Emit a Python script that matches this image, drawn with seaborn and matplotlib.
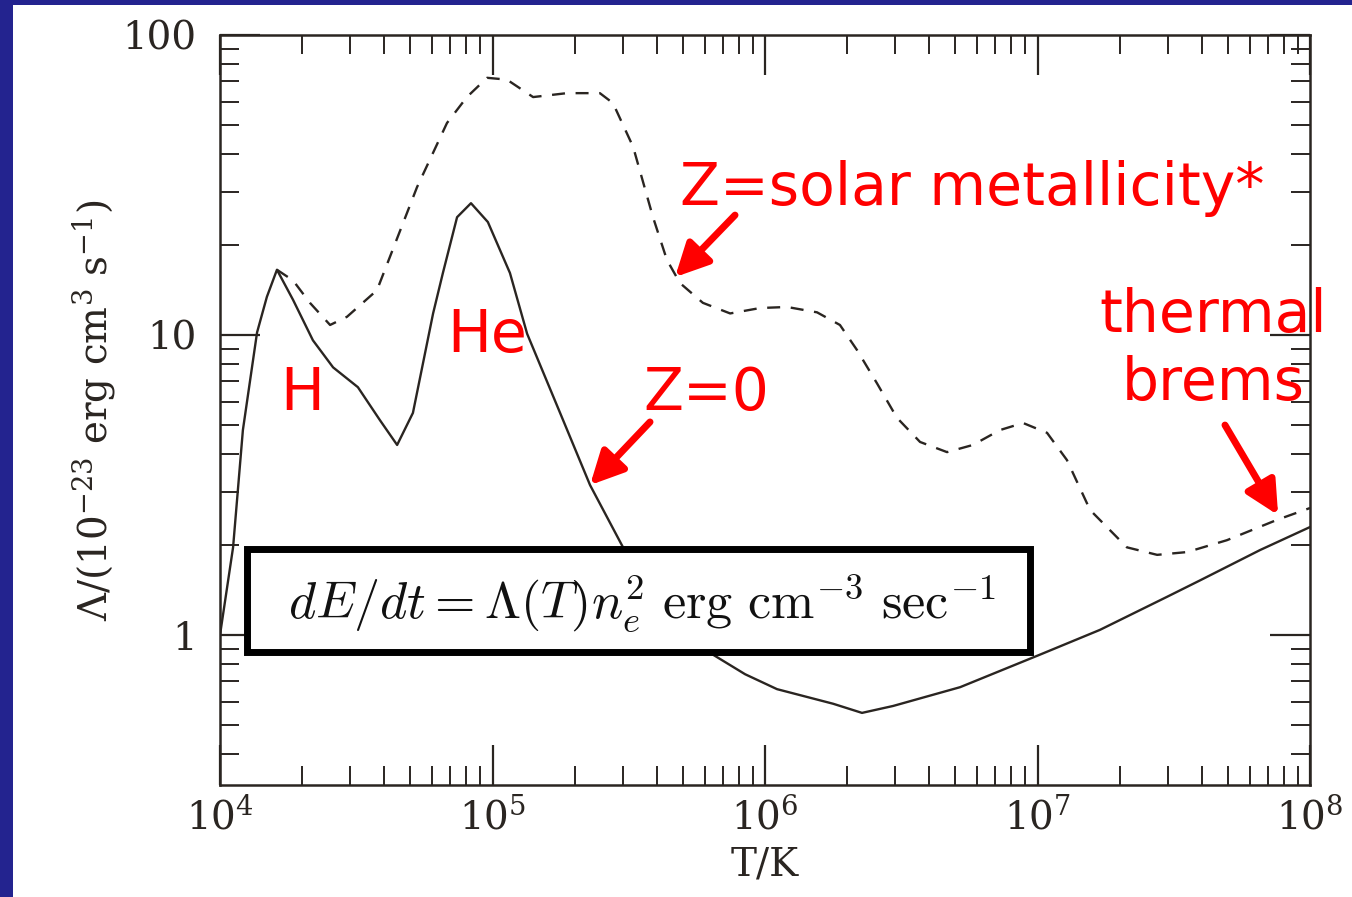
import numpy as np
import pandas as pd
import matplotlib
matplotlib.use("Agg")
import matplotlib.pyplot as plt
from matplotlib.patches import Rectangle
from matplotlib.ticker import FixedLocator, FixedFormatter, LogLocator, NullFormatter
import seaborn as sns

# Cooling function for primordial gas (Z = 0): log10(T/K) and Lambda in 1e-23 erg cm^3 s^-1
logT_z0 = [4.000, 4.048, 4.084, 4.136, 4.172, 4.209, 4.268, 4.341, 4.415, 4.506,
           4.587, 4.650, 4.708, 4.782, 4.818, 4.870, 4.921, 4.983, 5.064, 5.127,
           5.248, 5.358, 5.479, 5.615, 5.809, 5.927, 6.044, 6.250, 6.356, 6.470,
           6.716, 7.009, 7.229, 7.475, 7.596, 7.817, 8.000]
lam_z0 = [1.00, 1.96, 4.82, 10.2, 13.4, 16.5, 13.1, 9.6, 7.8, 6.7,
          5.2, 4.3, 5.5, 11.8, 16.1, 24.7, 27.5, 23.8, 16.1, 10.1,
          5.5, 3.16, 1.96, 1.26, 0.86, 0.74, 0.66, 0.59, 0.55, 0.58,
          0.67, 0.86, 1.04, 1.34, 1.52, 1.92, 2.29]

# Cooling function for solar metallicity gas
logT_sun = [4.209, 4.268, 4.330, 4.404, 4.466, 4.576, 4.723, 4.833, 4.906, 4.980,
            5.053, 5.149, 5.273, 5.394, 5.442, 5.516, 5.589, 5.640, 5.688, 5.772,
            5.872, 5.982, 6.081, 6.191, 6.275, 6.338, 6.411, 6.484, 6.569, 6.668,
            6.763, 6.862, 6.947, 7.035, 7.108, 7.193, 7.328, 7.439, 7.549, 7.695,
            7.879, 8.000]
lam_sun = [16.5, 15.2, 12.8, 10.8, 11.5, 14.1, 31.1, 50.9, 62.1, 72.0,
           71.0, 62.1, 64.0, 64.0, 59.3, 42.4, 24.7, 17.8, 14.9, 12.8,
           11.8, 12.3, 12.4, 11.9, 10.8, 8.9, 6.9, 5.3, 4.4, 4.07,
           4.30, 4.82, 5.09, 4.72, 3.83, 2.61, 1.96, 1.85, 1.89, 2.07,
           2.42, 2.65]

x_ticks = [1e4, 1e5, 1e6, 1e7, 1e8]
x_tick_labels = ["10$^{4}$", "10$^{5}$", "10$^{6}$", "10$^{7}$", "10$^{8}$"]
y_ticks = [1, 10, 100]
y_tick_labels = ["1", "10", "100"]

ink = "#2a2521"
red = "#ff0000"

df = pd.DataFrame({
    "T": np.concatenate([10 ** np.array(logT_z0), 10 ** np.array(logT_sun)]),
    "Lambda": np.concatenate([lam_z0, lam_sun]),
    "model": ["Z=0"] * len(lam_z0) + ["solar"] * len(lam_sun),
})

sns.set_theme(style="ticks")
plt.rcParams["font.family"] = ["DejaVu Serif"]

W, H = 1352, 897
fig = plt.figure(figsize=(W / 100, H / 100), dpi=100, facecolor="#23238f")
fig.add_artist(Rectangle((13 / W, 0), 1, 1 - 5 / H, transform=fig.transFigure,
                         facecolor="white", edgecolor="none", zorder=-1))

ax = fig.add_axes([220 / W, 1 - 785 / H, 1090 / W, 750 / H])
ax.set_facecolor("white")

sns.lineplot(data=df, x="T", y="Lambda", hue="model", style="model",
             palette={"Z=0": ink, "solar": ink},
             dashes={"Z=0": "", "solar": (5.5, 4.5)},
             estimator=None, sort=False, linewidth=1.7, legend=False, ax=ax)
for line in ax.get_lines():
    line.set_solid_joinstyle("round")
    line.set_dash_joinstyle("round")

ax.set_xscale("log")
ax.set_yscale("log")
ax.set_xlim(1e4, 1e8)
ax.set_ylim(10 ** -0.5, 100)

ax.xaxis.set_major_locator(FixedLocator(x_ticks))
ax.xaxis.set_major_formatter(FixedFormatter(x_tick_labels))
ax.xaxis.set_minor_locator(LogLocator(base=10, subs=np.arange(2, 10)))
ax.xaxis.set_minor_formatter(NullFormatter())
ax.yaxis.set_major_locator(FixedLocator(y_ticks))
ax.yaxis.set_major_formatter(FixedFormatter(y_tick_labels))
ax.yaxis.set_minor_locator(LogLocator(base=10, subs=np.arange(2, 10)))
ax.yaxis.set_minor_formatter(NullFormatter())

ax.tick_params(which="both", direction="in", top=True, right=True,
               color=ink, labelcolor=ink, labelsize=28)
ax.tick_params(which="major", length=29, width=1.6)
ax.tick_params(which="minor", length=14, width=1.4)
ax.tick_params(axis="x", pad=9)
ax.tick_params(axis="y", pad=17)
for lbl in ax.get_xticklabels():
    lbl.set_math_fontfamily("dejavuserif")
for sp in ax.spines.values():
    sp.set_color(ink)
    sp.set_linewidth(1.8)

ax.set_xlabel("T/K", fontsize=28, color=ink, labelpad=7)
ylab = ax.set_ylabel(r"$\Lambda$/(10$^{-23}$ erg cm$^{3}$ s$^{-1}$)",
                     fontsize=28, color=ink, labelpad=4)
ylab.set_math_fontfamily("dejavuserif")

# Formula box
ax.add_patch(Rectangle((0.0248, 0.177), 0.7183, 0.138, transform=ax.transAxes,
                       facecolor="white", edgecolor="black", linewidth=5, zorder=5))
ax.text(0.387, 0.242,
        r"$dE/dt = \Lambda(T)n_e^2\ \mathrm{erg\ cm}^{-3}\ \mathrm{sec}^{-1}$",
        transform=ax.transAxes, ha="center", va="center", fontsize=37.5,
        math_fontfamily="cm", color="#111111", zorder=6)

# Red labels
sans = ["DejaVu Sans"]
lbl_kw = dict(color=red, fontsize=42, family=sans, va="baseline", zorder=7, clip_on=False)
ax.text(10 ** 4.220, 5.62, "H", ha="left", **lbl_kw)
ax.text(10 ** 4.833, 8.78, "He", ha="left", **lbl_kw)
ax.text(10 ** 5.552, 5.62, "Z=0", ha="left", **lbl_kw)
ax.text(10 ** 5.688, 27.1, "Z=solar metallicity*", ha="left", **lbl_kw)
ax.text(10 ** 7.644, 10.2, "thermal", ha="center", **lbl_kw)
ax.text(10 ** 7.644, 6.07, "brems", ha="center", **lbl_kw)

arrow_kw = dict(arrowstyle="-|>,head_length=1.0,head_width=0.5", color=red,
                lw=5, mutation_scale=20, shrinkA=0, shrinkB=0)
ax.annotate("", xy=(10 ** 5.670, 15.6), xytext=(10 ** 5.890, 25.1),
            arrowprops=arrow_kw, zorder=7)
ax.annotate("", xy=(10 ** 5.358, 3.16), xytext=(10 ** 5.578, 5.13),
            arrowprops=arrow_kw, zorder=7)
ax.annotate("", xy=(10 ** 7.883, 2.51), xytext=(10 ** 7.688, 5.01),
            arrowprops=arrow_kw, zorder=7)

fig.savefig("out.png", dpi=100, facecolor=fig.get_facecolor())
